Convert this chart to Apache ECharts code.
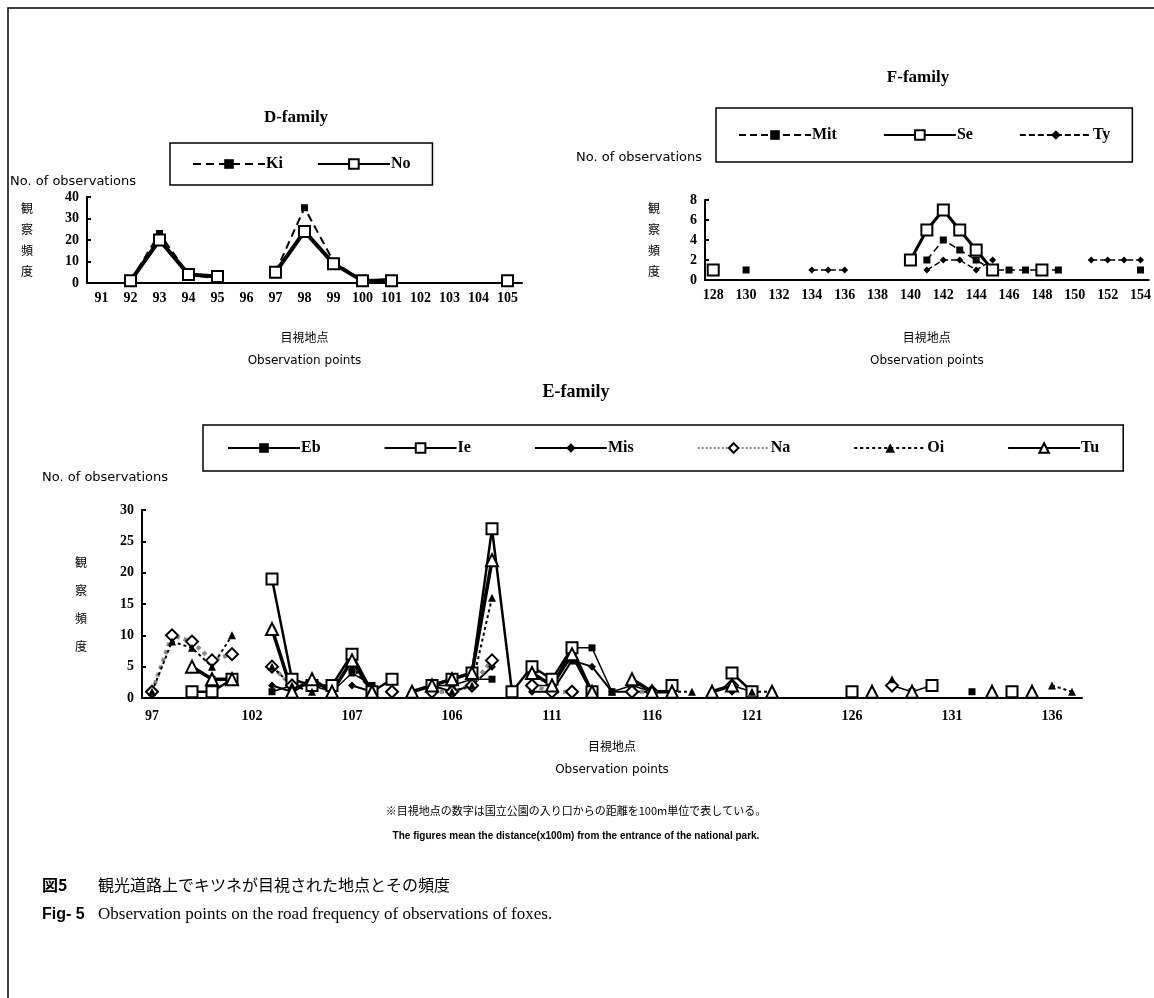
<!DOCTYPE html>
<html>
<head>
<meta charset="utf-8">
<script src="https://cdn.jsdelivr.net/npm/echarts@6/dist/echarts.min.js"></script>
<style>
  html, body { margin: 0; padding: 0; background: #fff; }
  #chart { width: 1154px; height: 998px; }
</style>
</head>
<body>
<div id="chart"></div>
<script>
// D-family
const dCats = ['91', '92', '93', '94', '95', '96', '97', '98', '99', '100', '101', '102', '103', '104', '105']
const dKi = [null, 1, 23, 4, 2, null, 5, 35, 10, 1, 2, null, null, null, null]
const dNo = [null, 1, 20, 4, 3, null, 5, 24, 9, 1, 1, null, null, null, 1]

// F-family
const fCats = ['128', '129', '130', '131', '132', '133', '134', '135', '136', '137', '138', '139', '140', '141',
  '142', '143', '144', '145', '146', '147', '148', '149', '150', '151', '152', '153', '154']
const fMit = [null, null, 1, null, null, null, null, null, null, null, null, null, null, 2, 4, 3, 2, 1, 1, 1, 1, 1, null, null, null, null, 1]
const fSe = [1, null, null, null, null, null, null, null, null, null, null, null, 2, 5, 7, 5, 3, 1, null, null, 1, null, null, null, null, null, null]
const fTy = [null, null, null, null, null, null, 1, 1, 1, null, null, null, null, 1, 2, 2, 1, 2, null, null, null, null, null, 2, 2, 2, 2]

// E-family
const eCats = ['97', '98', '99', '100', '101', '102', '103', '104', '105', '106', '107',
  '102', '103', '104', '105', '106', '107', '108', '109', '110', '111', '112', '113', '114', '115',
  '116', '117', '118', '119', '120', '121', '122', '123', '124', '125', '126', '127', '128', '129',
  '130', '131', '132', '133', '134', '135', '136', '137']
const n = null
const eEb = [n, n, n, 3, 3, n, 1, 2, 2, 1, 4, 2, n, n, 2, 2, 3, 3, n, 2, 2, 8, 8, 1, 2, 1, 1, n, n, 2, 1, n, n, n, n, n, n, 2, 1, 2, n, 1, n, n, n, n, n]
const eIe = [n, n, 1, 1, 3, n, 19, 3, 2, 2, 7, 1, 3, n, 2, 3, 4, 27, 1, 5, 3, 8, 1, n, n, n, 2, n, n, 4, 1, n, n, n, n, 1, n, n, n, 2, n, n, n, 1, n, n, n]
const eMis = [n, n, n, n, n, n, 2, 1, n, n, 2, 1, n, n, 2, 1, 2, 5, n, 1, 1, 6, 5, 1, 1, 1, n, n, n, 1, n, n, n, n, n, n, n, 2, n, n, n, n, n, n, n, n, n]
const eNa = [1, 10, 9, 6, 7, n, 5, 2, n, n, n, n, 1, n, 1, 1, 2, 6, n, 2, 1, 1, n, n, 1, 1, n, n, n, 2, n, n, n, n, n, n, n, 2, n, n, n, n, n, n, n, n, n]
const eOi = [1, 9, 8, 5, 10, n, 5, 2, 1, n, 5, 1, n, 1, n, 1, 2, 16, n, n, n, 6, n, 1, n, n, 1, 1, n, n, 1, 1, n, n, n, n, n, 3, n, n, n, n, n, n, n, 2, 1]
const eTu = [n, n, 5, 3, 3, n, 11, 1, 3, 1, 6, 1, n, 1, 2, 3, 4, 22, n, 4, 2, 7, 1, n, 3, 1, 1, n, 1, 2, n, 1, n, n, n, n, 1, n, 1, n, n, n, 1, n, 1, n, n]

const SERIF = 'Liberation Serif'
const SANS = 'DejaVu Sans'
const CJK = 'Noto Sans CJK JP'

const chart = echarts.init(document.getElementById('chart'), null, { renderer: 'canvas' })

// marker styles
const openMark = { color: '#fff', borderColor: '#000', borderWidth: 2 }
const fillMark = { color: '#000', borderColor: '#000', borderWidth: 0 }

function line (name, data, axis, symbol, size, mark, lineStyle) {
  return {
    name: name,
    type: 'line',
    xAxisIndex: axis,
    yAxisIndex: axis,
    data: data,
    connectNulls: false,
    symbol: symbol,
    symbolSize: size,
    showAllSymbol: true,
    itemStyle: mark,
    lineStyle: Object.assign({ color: '#000' }, lineStyle),
    emphasis: { disabled: true },
    animation: false,
    z: 3
  }
}

function catAxis (grid, data, labelInterval, margin) {
  return {
    type: 'category',
    gridIndex: grid,
    data: data,
    boundaryGap: true,
    axisLine: { lineStyle: { color: '#000', width: 2 } },
    axisTick: { inside: true, length: 4, interval: 0, lineStyle: { color: '#000', width: 2 } },
    axisLabel: { interval: labelInterval, color: '#000', fontFamily: SERIF, fontSize: 14, fontWeight: 'bold', margin: margin },
    splitLine: { show: false },
    nameLocation: 'middle',
    nameTextStyle: {
      rich: {
        a: { fontFamily: CJK, fontSize: 12, color: '#000', lineHeight: 24 },
        b: { fontFamily: SANS, fontSize: 12, color: '#000', lineHeight: 24 }
      }
    },
    name: '{a|目視地点}\n{b|Observation points}'
  }
}

function valAxis (grid, max, interval, gap, lh) {
  return {
    type: 'value',
    gridIndex: grid,
    min: 0,
    max: max,
    interval: interval,
    axisLine: { show: true, lineStyle: { color: '#000', width: 2 } },
    axisTick: { show: true, inside: true, length: 4, lineStyle: { color: '#000', width: 2 } },
    axisLabel: { color: '#000', fontFamily: SERIF, fontSize: 14, fontWeight: 'bold', margin: 8 },
    splitLine: { show: false },
    name: '観\n察\n頻\n度',
    nameLocation: 'middle',
    nameRotate: 0,
    nameGap: gap,
    nameTextStyle: { fontFamily: CJK, fontSize: 12, color: '#000', lineHeight: lh }
  }
}

function legendBox (names, left, top, gap, pad) {
  return {
    data: names,
    left: left,
    top: top,
    orient: 'horizontal',
    itemGap: gap,
    itemWidth: 72,
    itemHeight: 12,
    padding: pad,
    borderColor: '#000',
    borderWidth: 1.5,
    selectedMode: false,
    textStyle: { fontFamily: SERIF, fontSize: 16, fontWeight: 'bold', color: '#000', padding: [0, 0, 0, -4] }
  }
}

function txt (text, x, y, font, align) {
  return {
    type: 'text',
    style: { text: text, x: x, y: y, font: font, fill: '#000', textAlign: align || 'left', textVerticalAlign: 'middle' }
  }
}

const option = {
  backgroundColor: '#fff',
  animation: false,
  grid: [
    { left: 87, top: 197, width: 435, height: 86 },
    { left: 705, top: 200, width: 445, height: 80 },
    { left: 142, top: 510, width: 940, height: 188 }
  ],
  xAxis: [
    Object.assign(catAxis(0, dCats, 0, 8), { nameGap: 42 }),
    Object.assign(catAxis(1, fCats, 1, 8), { nameGap: 45 }),
    Object.assign(catAxis(2, eCats, 4, 11), { nameGap: 36 })
  ],
  yAxis: [
    valAxis(0, 40, 10, 54, 21),
    valAxis(1, 8, 2, 45, 21),
    valAxis(2, 30, 5, 55, 28)
  ],
  legend: [
    legendBox(['Ki', 'No'], 170, 143, 34, [13, 22]),
    legendBox(['Mit', 'Se', 'Ty'], 716, 108, 46, [19, 22]),
    legendBox(['Eb', 'Ie', 'Mis', 'Na', 'Oi', 'Tu'], 203, 425, 63, [15, 24])
  ],
  series: [
    line('Ki', dKi, 0, 'rect', 7, fillMark, { width: 2, type: [8, 5] }),
    line('No', dNo, 0, 'rect', 11, openMark, { width: 4 }),

    line('Mit', fMit, 1, 'rect', 7, fillMark, { width: 1.5, type: [7, 4] }),
    line('Se', fSe, 1, 'rect', 11, openMark, { width: 3 }),
    line('Ty', fTy, 1, 'diamond', 7, fillMark, { width: 1.5, type: [6, 3] }),

    line('Eb', eEb, 2, 'rect', 7, fillMark, { width: 1.5 }),
    line('Ie', eIe, 2, 'rect', 11, openMark, { width: 2.5 }),
    line('Mis', eMis, 2, 'diamond', 8, fillMark, { width: 2 }),
    line('Na', eNa, 2, 'diamond', 12, openMark, { width: 4, color: '#8a8a8a', type: 'dotted' }),
    line('Oi', eOi, 2, 'triangle', 8, fillMark, { width: 2, type: [3, 3] }),
    line('Tu', eTu, 2, 'triangle', 12, openMark, { width: 3.5 })
  ],
  graphic: [
    {
      type: 'rect',
      shape: { x: 8, y: 8, width: 1170, height: 1010 },
      style: { fill: 'none', stroke: '#000', lineWidth: 1.5 },
      silent: true
    },
    txt('D-family', 296, 118, 'bold 17px "Liberation Serif"', 'center'),
    txt('F-family', 918, 78, 'bold 17px "Liberation Serif"', 'center'),
    txt('E-family', 576, 392, 'bold 18px "Liberation Serif"', 'center'),
    txt('No. of observations', 10, 182, '13px "DejaVu Sans"'),
    txt('No. of observations', 576, 158, '13px "DejaVu Sans"'),
    txt('No. of observations', 42, 478, '13px "DejaVu Sans"'),
    txt('※目視地点の数字は国立公園の入り口からの距離を100m単位で表している。', 576, 811, '11px "Noto Sans CJK JP"', 'center'),
    txt('The figures mean the distance(x100m) from the entrance of the national park.', 576, 836, 'bold 10px "Liberation Sans"', 'center'),
    {
      type: 'text',
      style: {
        text: '{a|図5}{b|観光道路上でキツネが目視された地点とその頻度}',
        x: 42, y: 885, textVerticalAlign: 'middle',
        rich: {
          a: { font: 'bold 16px "Noto Sans CJK JP"', fill: '#000', width: 56 },
          b: { font: '16px "Noto Sans CJK JP"', fill: '#000' }
        }
      }
    },
    {
      type: 'text',
      style: {
        text: '{a|Fig- 5}{b|Observation points on the road frequency of observations of foxes.}',
        x: 42, y: 915, textVerticalAlign: 'middle',
        rich: {
          a: { font: 'bold 16px "Liberation Sans"', fill: '#000', width: 56 },
          b: { font: '17px "Liberation Serif"', fill: '#000' }
        }
      }
    }
  ]
}

chart.setOption(option)
</script>
</body>
</html>
